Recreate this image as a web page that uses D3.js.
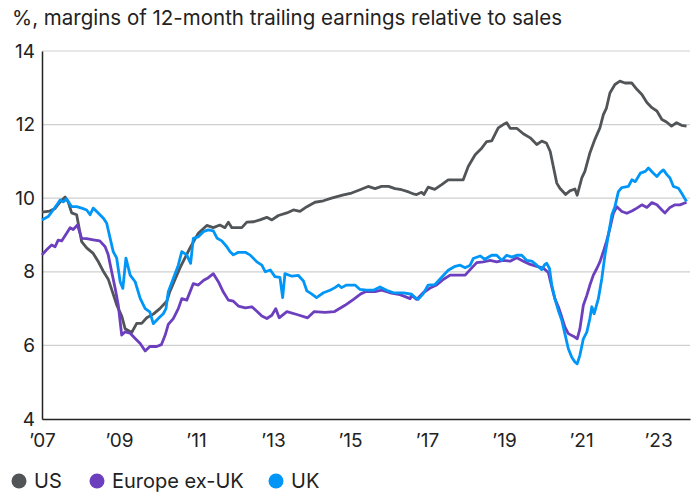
<!DOCTYPE html>
<html>
<head>
<meta charset="utf-8">
<script src="https://cdn.jsdelivr.net/npm/d3@7"></script>
<style>
  body { margin: 0; background: #fff; }
  svg text { font-family: Inter, "Open Sans", sans-serif; fill: #222; }
</style>
</head>
<body>
<script>
// Data (decimal year, %)
var title = "%, margins of 12-month trailing earnings relative to sales";
var yTicks = [4, 6, 8, 10, 12, 14];
var xTicks = [2007, 2009, 2011, 2013, 2015, 2017, 2019, 2021, 2023];
var seriesNames = ["US", "Europe ex-UK", "UK"];
var seriesColors = ["#515558", "#6c3fbf", "#0096f7"];

var usData = [[2007.0,9.62],[2007.2,9.65],[2007.34,9.72],[2007.47,9.9],[2007.6,10.03],[2007.68,9.9],[2007.77,9.6],[2007.9,9.55],[2008.03,8.82],[2008.16,8.65],[2008.33,8.5],[2008.46,8.28],[2008.6,8.0],[2008.72,7.8],[2008.8,7.55],[2008.94,7.1],[2009.07,6.8],[2009.16,6.45],[2009.33,6.35],[2009.46,6.6],[2009.59,6.6],[2009.72,6.75],[2009.89,6.85],[2010.06,7.0],[2010.24,7.2],[2010.32,7.46],[2010.58,8.1],[2010.84,8.64],[2011.06,9.05],[2011.28,9.26],[2011.45,9.2],[2011.62,9.27],[2011.75,9.2],[2011.84,9.35],[2011.93,9.2],[2012.19,9.2],[2012.32,9.35],[2012.5,9.36],[2012.66,9.41],[2012.84,9.48],[2012.97,9.41],[2013.14,9.53],[2013.36,9.6],[2013.53,9.68],[2013.7,9.64],[2013.88,9.77],[2014.09,9.89],[2014.31,9.93],[2014.52,10.0],[2014.83,10.09],[2015.04,10.14],[2015.26,10.23],[2015.47,10.32],[2015.65,10.26],[2015.82,10.32],[2016.0,10.32],[2016.17,10.26],[2016.34,10.23],[2016.52,10.17],[2016.64,10.12],[2016.73,10.1],[2016.86,10.16],[2016.92,10.1],[2017.03,10.3],[2017.2,10.24],[2017.38,10.37],[2017.55,10.5],[2017.73,10.5],[2017.94,10.5],[2018.07,10.86],[2018.25,11.18],[2018.42,11.36],[2018.55,11.54],[2018.68,11.56],[2018.85,11.91],[2018.98,12.0],[2019.07,12.05],[2019.16,11.9],[2019.33,11.9],[2019.5,11.75],[2019.68,11.64],[2019.85,11.46],[2019.98,11.55],[2020.1,11.5],[2020.2,11.27],[2020.28,10.86],[2020.37,10.41],[2020.45,10.27],[2020.6,10.1],[2020.71,10.2],[2020.84,10.25],[2020.9,10.08],[2021.02,10.55],[2021.1,10.73],[2021.23,11.23],[2021.36,11.6],[2021.49,11.91],[2021.58,12.27],[2021.66,12.45],[2021.75,12.86],[2021.88,13.09],[2022.01,13.18],[2022.14,13.13],[2022.32,13.13],[2022.45,12.96],[2022.58,12.82],[2022.71,12.6],[2022.84,12.46],[2022.97,12.37],[2023.1,12.14],[2023.22,12.07],[2023.35,11.96],[2023.48,12.05],[2023.61,11.98],[2023.74,11.96]];

var europeData = [[2007.0,8.46],[2007.12,8.6],[2007.25,8.73],[2007.34,8.68],[2007.42,8.86],[2007.51,8.84],[2007.64,9.05],[2007.73,9.2],[2007.81,9.15],[2007.92,9.27],[2008.03,8.91],[2008.16,8.9],[2008.33,8.87],[2008.5,8.84],[2008.64,8.68],[2008.72,8.46],[2008.81,8.0],[2008.9,7.55],[2008.98,7.1],[2009.07,6.28],[2009.16,6.37],[2009.29,6.33],[2009.42,6.19],[2009.55,6.05],[2009.68,5.85],[2009.8,5.97],[2009.98,5.97],[2010.1,6.02],[2010.2,6.28],[2010.28,6.57],[2010.41,6.73],[2010.54,7.0],[2010.63,7.27],[2010.76,7.23],[2010.93,7.68],[2011.06,7.64],[2011.2,7.77],[2011.32,7.84],[2011.45,7.95],[2011.58,7.73],[2011.71,7.45],[2011.84,7.23],[2011.97,7.2],[2012.1,7.07],[2012.28,7.02],[2012.45,7.05],[2012.58,6.93],[2012.71,6.8],[2012.84,6.73],[2012.97,6.82],[2013.07,7.0],[2013.16,6.75],[2013.36,6.92],[2013.62,6.84],[2013.9,6.75],[2014.07,6.92],[2014.35,6.9],[2014.6,6.92],[2014.87,7.09],[2015.1,7.26],[2015.28,7.4],[2015.4,7.46],[2015.65,7.46],[2015.82,7.5],[2016.04,7.43],[2016.3,7.38],[2016.56,7.27],[2016.6,7.36],[2016.73,7.25],[2016.9,7.43],[2017.08,7.56],[2017.25,7.64],[2017.42,7.79],[2017.6,7.91],[2017.77,7.91],[2017.99,7.91],[2018.12,8.06],[2018.29,8.25],[2018.46,8.27],[2018.64,8.31],[2018.81,8.27],[2018.98,8.31],[2019.16,8.29],[2019.33,8.38],[2019.5,8.29],[2019.68,8.2],[2019.85,8.15],[2020.02,8.1],[2020.15,7.98],[2020.24,7.59],[2020.32,7.27],[2020.41,7.05],[2020.5,6.77],[2020.58,6.5],[2020.67,6.32],[2020.8,6.25],[2020.9,6.18],[2020.97,6.45],[2021.06,7.09],[2021.15,7.36],[2021.23,7.64],[2021.32,7.91],[2021.41,8.09],[2021.49,8.27],[2021.58,8.55],[2021.66,8.82],[2021.75,9.18],[2021.84,9.59],[2021.93,9.77],[2022.06,9.64],[2022.19,9.59],[2022.32,9.65],[2022.45,9.73],[2022.58,9.82],[2022.71,9.75],[2022.84,9.88],[2022.97,9.82],[2023.1,9.68],[2023.18,9.6],[2023.31,9.75],[2023.44,9.82],[2023.57,9.82],[2023.74,9.89]];

var ukData = [[2007.0,9.41],[2007.16,9.5],[2007.29,9.68],[2007.38,9.81],[2007.47,9.95],[2007.55,9.9],[2007.64,9.98],[2007.77,9.77],[2007.9,9.77],[2008.03,9.73],[2008.16,9.68],[2008.25,9.55],[2008.33,9.73],[2008.46,9.6],[2008.6,9.45],[2008.68,9.32],[2008.77,8.91],[2008.85,8.55],[2008.94,8.37],[2009.03,7.73],[2009.1,7.55],[2009.18,8.37],[2009.29,7.91],[2009.42,7.73],[2009.55,7.28],[2009.68,7.0],[2009.8,6.91],[2009.89,6.59],[2010.02,6.73],[2010.15,6.86],[2010.22,7.0],[2010.28,7.46],[2010.41,7.82],[2010.54,8.18],[2010.63,8.55],[2010.76,8.46],[2010.86,8.23],[2010.93,8.91],[2011.06,8.95],[2011.19,9.09],[2011.32,9.14],[2011.45,9.11],[2011.55,8.91],[2011.67,8.84],[2011.8,8.68],[2011.88,8.55],[2011.97,8.46],[2012.1,8.53],[2012.28,8.53],[2012.4,8.46],[2012.58,8.27],[2012.71,8.18],[2012.8,8.0],[2012.93,8.05],[2013.05,7.87],[2013.18,7.85],[2013.25,7.3],[2013.31,7.95],[2013.49,7.88],[2013.66,7.9],[2013.79,7.75],[2013.88,7.48],[2014.0,7.4],[2014.13,7.3],[2014.31,7.43],[2014.48,7.5],[2014.61,7.57],[2014.7,7.64],[2014.78,7.57],[2014.91,7.64],[2015.13,7.64],[2015.26,7.52],[2015.43,7.5],[2015.61,7.5],[2015.78,7.59],[2015.95,7.5],[2016.13,7.43],[2016.39,7.43],[2016.6,7.39],[2016.69,7.3],[2016.77,7.25],[2016.9,7.4],[2017.03,7.64],[2017.2,7.65],[2017.38,7.85],[2017.55,8.04],[2017.73,8.15],[2017.86,8.18],[2017.99,8.11],[2018.12,8.18],[2018.2,8.36],[2018.38,8.43],[2018.5,8.34],[2018.68,8.45],[2018.81,8.45],[2018.94,8.31],[2019.07,8.45],[2019.2,8.4],[2019.33,8.45],[2019.46,8.45],[2019.59,8.31],[2019.72,8.29],[2019.85,8.18],[2019.98,8.06],[2020.06,8.2],[2020.11,8.23],[2020.18,8.09],[2020.24,7.64],[2020.32,7.27],[2020.41,6.95],[2020.5,6.68],[2020.58,6.32],[2020.67,5.91],[2020.76,5.68],[2020.84,5.55],[2020.9,5.5],[2020.97,5.73],[2021.06,6.18],[2021.15,6.36],[2021.23,6.73],[2021.28,7.05],[2021.34,6.86],[2021.45,7.27],[2021.54,7.82],[2021.62,8.45],[2021.71,9.0],[2021.8,9.55],[2021.88,9.77],[2021.97,10.18],[2022.06,10.29],[2022.23,10.32],[2022.32,10.5],[2022.41,10.45],[2022.54,10.68],[2022.67,10.73],[2022.75,10.82],[2022.88,10.68],[2022.97,10.59],[2023.06,10.7],[2023.14,10.77],[2023.23,10.64],[2023.31,10.55],[2023.4,10.32],[2023.53,10.27],[2023.61,10.14],[2023.74,9.91]];

var allSeries = [usData, europeData, ukData];

// Dimensions
var width = 699;
var height = 498;
var margin = { top: 51, right: 9, bottom: 79, left: 42 };

var svg = d3
  .select("body")
  .append("svg")
  .attr("width", width)
  .attr("height", height);

// Scales
var x = d3.scaleLinear()
  .domain([2007, 2023.83])
  .range([margin.left, width - margin.right]);

var y = d3.scaleLinear()
  .domain([4, 14])
  .range([height - margin.bottom, margin.top]);

// Title
svg.append("text")
  .attr("x", 12)
  .attr("y", 25)
  .style("font-size", "20.5px")
  .text(title);

// Gridlines
svg.append("g")
  .selectAll("line")
  .data(yTicks.slice(1))
  .enter()
  .append("line")
  .attr("x1", margin.left)
  .attr("x2", width - margin.right)
  .attr("y1", function (d) { return y(d); })
  .attr("y2", function (d) { return y(d); })
  .attr("stroke", "#cfcfcf")
  .attr("stroke-width", 1.2);

// Y axis
var yAxis = svg.append("g")
  .attr("transform", "translate(" + margin.left + ",0)")
  .call(d3.axisLeft(y).tickValues(yTicks).tickSize(0).tickPadding(7));
yAxis.select(".domain").attr("stroke", "#222").attr("stroke-width", 1.5);
yAxis.selectAll("text").style("font-size", "19px").style("font-family", "Inter, sans-serif").attr("fill", "#222");

// X axis
var xAxis = svg.append("g")
  .attr("transform", "translate(0," + y(4) + ")")
  .call(d3.axisBottom(x).tickValues(xTicks).tickSize(0).tickPadding(15)
    .tickFormat(function (d) { return "\u2019" + String(d).slice(2); }));
xAxis.select(".domain").attr("stroke", "#222").attr("stroke-width", 1.5);
xAxis.selectAll("text").style("font-size", "19px").style("font-family", "Inter, sans-serif").attr("fill", "#222");

// Lines
var line = d3.line()
  .x(function (d) { return x(d[0]); })
  .y(function (d) { return y(d[1]); });

svg.append("g")
  .selectAll("path")
  .data(allSeries)
  .enter()
  .append("path")
  .attr("d", line)
  .attr("fill", "none")
  .attr("stroke", function (d, i) { return seriesColors[i]; })
  .attr("stroke-width", 2.8)
  .attr("stroke-linejoin", "round");

// Legend
var legendX = [19, 97, 276];
var legend = svg.append("g")
  .selectAll("g")
  .data(seriesNames)
  .enter()
  .append("g")
  .attr("transform", function (d, i) { return "translate(" + legendX[i] + ",481)"; });

legend.append("circle")
  .attr("r", 7.5)
  .attr("fill", function (d, i) { return seriesColors[i]; });

legend.append("text")
  .attr("x", 15)
  .attr("dy", "0.35em")
  .style("font-size", "20px")
  .text(function (d) { return d; });
</script>
</body>
</html>
